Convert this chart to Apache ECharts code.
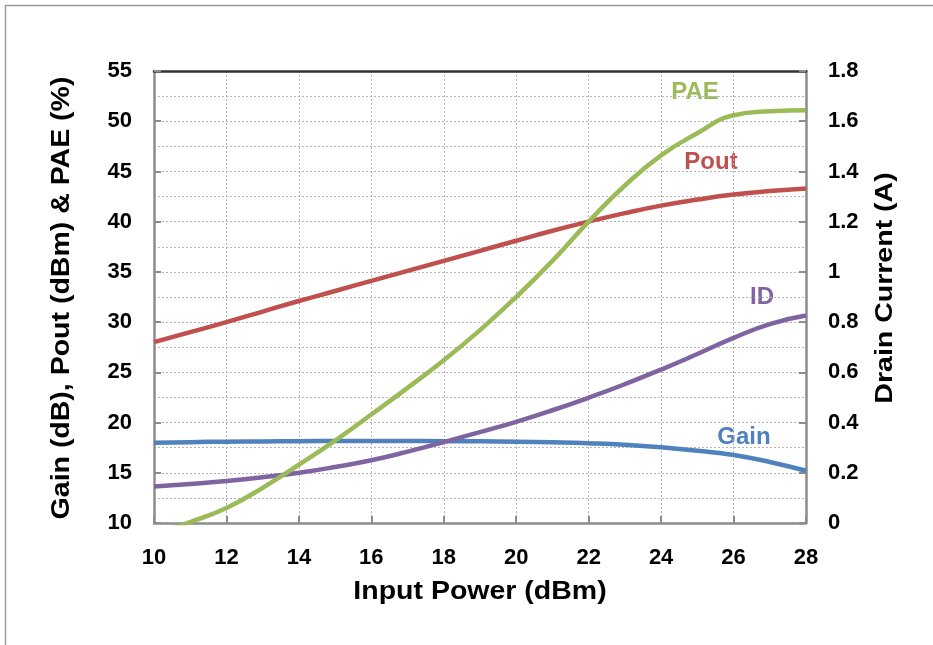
<!DOCTYPE html>
<html>
<head>
<meta charset="utf-8">
<script src="https://cdn.jsdelivr.net/npm/echarts@6/dist/echarts.min.js"></script>
<style>
html,body{margin:0;padding:0;background:#fff;}
#chart{width:933px;height:645px;}
</style>
</head>
<body>
<div id="chart"></div>
<script>
const inputPower = [10,11,12,13,14,15,16,17,18,19,20,21,22,23,24,25,26,27,28];
const pout = [28.0,29.0,30.0,31.05,32.1,33.1,34.1,35.1,36.1,37.1,38.1,39.1,40.0,40.85,41.6,42.2,42.7,43.05,43.3];
const pae  = [8.9,10.1,11.5,13.5,15.8,18.2,20.8,23.45,26.2,29.2,32.5,36.1,40.0,43.6,46.6,48.8,50.6,51.0,51.1];
const gain = [18.0,18.05,18.1,18.12,18.15,18.17,18.17,18.17,18.15,18.13,18.1,18.04,17.95,17.8,17.55,17.2,16.77,16.08,15.2];
const drainCurrent = [0.145,0.155,0.167,0.182,0.200,0.223,0.250,0.284,0.322,0.362,0.403,0.449,0.499,0.553,0.611,0.673,0.737,0.792,0.826];

const xTitle = 'Input Power (dBm)';
const yLeftTitle = 'Gain (dB), Pout (dBm) & PAE (%)';
const yRightTitle = 'Drain Current (A)';
const colors = {PAE:'#9BBB59', Pout:'#C0504D', ID:'#8064A2', Gain:'#4F81BD'};

const FONT = '"Liberation Sans", Arial, sans-serif';
const pair = arr => inputPower.map((x,i)=>[x,arr[i]]);

const chart = echarts.init(document.getElementById('chart'));
const dotted = {show:true, lineStyle:{color:'#b4b4b4', type:[2,2], width:1}};
const labelStyle = {color:'#000', fontFamily:FONT, fontWeight:'bold', fontSize:22};
const axisGray = '#8c8c8c';

function lineSeries(name, data, yIdx){
  return {name, type:'line', data, yAxisIndex:yIdx, xAxisIndex:0, smooth:0.5, symbol:'none', clip:true,
    lineStyle:{color:colors[name], width:4.5}, itemStyle:{color:colors[name]}, z:3};
}
function title(text, x, y, rot, size, sx){
  return {type:'text', x, y, rotation:rot, scaleX:sx, silent:true,
    style:{text, fill:'#000', font:'bold '+size+'px '+FONT, textAlign:'center', textVerticalAlign:'middle'}};
}
function seriesLabel(name, x, y){
  return {type:'text', x, y, silent:true,
    style:{text:name, fill:colors[name], font:'bold 24px '+FONT, textAlign:'center', textVerticalAlign:'middle'}};
}

chart.setOption({
  animation:false,
  backgroundColor:'#fff',
  grid:{left:154, right:127, top:71, bottom:122, containLabel:false},
  xAxis:[{
    type:'value', min:10, max:28, interval:2, position:'bottom',
    axisLine:{show:true, lineStyle:{color:axisGray, width:2.5}},
    axisTick:{show:true, inside:true, length:7, lineStyle:{color:axisGray, width:2}},
    axisLabel:Object.assign({margin:24}, labelStyle),
    splitLine:dotted
  },{
    type:'value', min:10, max:28, interval:2, position:'top',
    axisLine:{show:true, onZero:false, lineStyle:{color:'#333', width:2.5}},
    axisTick:{show:false}, axisLabel:{show:false}, splitLine:{show:false}
  }],
  yAxis:[{
    type:'value', min:10, max:55, interval:5, position:'left',
    axisLine:{show:true, lineStyle:{color:axisGray, width:2.5}},
    axisTick:{show:true, inside:true, length:7, lineStyle:{color:axisGray, width:2}},
    axisLabel:Object.assign({margin:22}, labelStyle),
    splitLine:dotted,
    minorTick:{show:false, splitNumber:2},
    minorSplitLine:dotted
  },{
    type:'value', min:0, max:1.8, interval:0.2, position:'right',
    axisLine:{show:true, lineStyle:{color:axisGray, width:2.5}},
    axisTick:{show:true, inside:true, length:7, lineStyle:{color:axisGray, width:2}},
    axisLabel:Object.assign({margin:22}, labelStyle),
    splitLine:{show:false}
  }],
  series:[
    lineSeries('Gain', pair(gain), 0),
    lineSeries('ID', pair(drainCurrent), 1),
    lineSeries('Pout', pair(pout), 0),
    lineSeries('PAE', pair(pae), 0)
  ],
  graphic:[
    {type:'rect', left:3, top:3, shape:{width:1000, height:1000}, style:{fill:'none', stroke:'#9a9a9a', lineWidth:1.5}, silent:true, z:0},
    title(xTitle, 480, 592, 0, 25, 1.14),
    title(yLeftTitle, 62, 298, Math.PI/2, 25, 1.14),
    title(yRightTitle, 886, 288, Math.PI/2, 23, 1.24),
    seriesLabel('PAE', 695, 92),
    seriesLabel('Pout', 711, 162),
    seriesLabel('ID', 762, 297),
    seriesLabel('Gain', 744, 437)
  ]
});
</script>
</body>
</html>
